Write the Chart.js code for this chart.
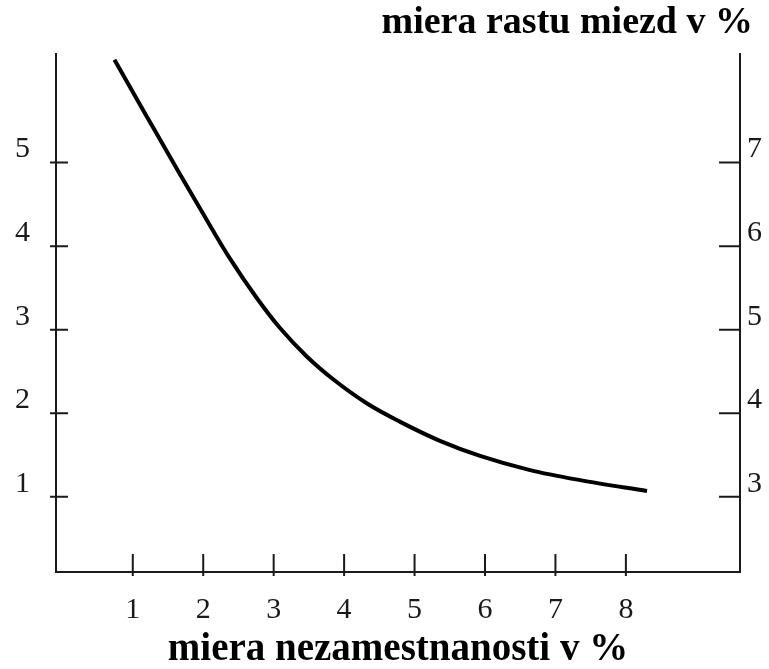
<!DOCTYPE html>
<html lang="sk">

<head>
    <meta charset="UTF-8">
    <meta name="viewport" content="width=device-width, initial-scale=1.0">
    <title>Phillipsova krivka</title>
    <script src="https://cdn.jsdelivr.net/npm/chart.js"></script>
    <style>
        html, body { margin: 0; padding: 0; background: #fff; }
    </style>
</head>

<body>
    <canvas id="myChart" width="769" height="669"></canvas>

    <script>
        // curve: unemployment (%) -> wage growth (%, left scale)
        const unemployment = [0.74, 1.20, 1.67, 1.99, 2.38, 2.76, 3.09, 3.47, 3.84, 4.32, 4.79, 5.36, 5.93, 6.64, 7.35, 8.30];
        const wageGrowth   = [6.23, 5.55, 4.86, 4.40, 3.85, 3.38, 3.02, 2.68, 2.41, 2.12, 1.90, 1.67, 1.49, 1.32, 1.20, 1.07];

        const xTicks = [1, 2, 3, 4, 5, 6, 7, 8];
        const leftTicks = [1, 2, 3, 4, 5];
        const rightTicks = [3, 4, 5, 6, 7];

        const xTitle = 'miera nezamestnanosti v %';
        const topTitle = 'miera rastu miezd v %';

        const ink = '#1a1a1a';
        const serif = '"Liberation Serif", "DejaVu Serif", serif';

        // short tick marks drawn at the scale positions
        const tickMarks = {
            id: 'tickMarks',
            afterDraw(chart) {
                const ctx = chart.ctx;
                const x = chart.scales.x, yl = chart.scales.y, yr = chart.scales.y2;
                ctx.save();
                ctx.strokeStyle = ink;
                ctx.lineWidth = 2;
                ctx.beginPath();
                x.ticks.forEach(t => {
                    const px = x.getPixelForValue(t.value);
                    ctx.moveTo(px, x.top - 18);
                    ctx.lineTo(px, x.top + 4);
                });
                yl.ticks.forEach(t => {
                    const py = yl.getPixelForValue(t.value);
                    ctx.moveTo(yl.right - 6, py);
                    ctx.lineTo(yl.right + 12, py);
                });
                yr.ticks.forEach(t => {
                    const py = yr.getPixelForValue(t.value);
                    ctx.moveTo(yr.left - 21, py);
                    ctx.lineTo(yr.left, py);
                });
                ctx.stroke();
                ctx.restore();
            }
        };

        function setTicks(values) {
            return function (scale) {
                scale.ticks = values.map(v => ({ value: v }));
            };
        }

        const ctx = document.getElementById('myChart').getContext('2d');
        const myChart = new Chart(ctx, {
            type: 'scatter',
            data: {
                datasets: [{
                    data: unemployment.map((u, i) => ({ x: u, y: wageGrowth[i] })),
                    showLine: true,
                    borderColor: '#000',
                    borderWidth: 4,
                    pointRadius: 0,
                    cubicInterpolationMode: 'monotone',
                    yAxisID: 'y'
                }]
            },
            options: {
                responsive: false,
                animation: false,
                devicePixelRatio: 1,
                layout: { padding: { left: 0, right: 16, top: 0, bottom: 0 } },
                plugins: {
                    legend: { display: false },
                    tooltip: { enabled: false },
                    title: {
                        display: true,
                        text: topTitle,
                        align: 'end',
                        color: '#000',
                        font: { family: serif, size: 38, weight: 'bold', lineHeight: 1.2 },
                        padding: { top: 0, bottom: 8.4 }
                    }
                },
                scales: {
                    x: {
                        type: 'linear',
                        min: -0.09,
                        max: 9.62,
                        afterBuildTicks: setTicks(xTicks),
                        afterFit(scale) { scale.height = 97; },
                        grid: { display: false, drawTicks: false },
                        border: { display: true, color: ink, width: 2 },
                        ticks: {
                            color: ink,
                            padding: 20,
                            font: { family: serif, size: 30, lineHeight: 1.2 }
                        },
                        title: {
                            display: true,
                            text: xTitle,
                            color: '#000',
                            padding: { top: 0, bottom: 0 },
                            font: { family: serif, size: 39, weight: 'bold', lineHeight: 1.0 }
                        }
                    },
                    y: {
                        type: 'linear',
                        position: 'left',
                        min: 0.1,
                        max: 6.3,
                        afterBuildTicks: setTicks(leftTicks),
                        afterFit(scale) { scale.width = 56; },
                        grid: { display: false, drawTicks: false },
                        border: { display: true, color: ink, width: 2 },
                        ticks: {
                            color: ink,
                            padding: 26,
                            labelOffset: -13,
                            font: { family: serif, size: 30 }
                        }
                    },
                    y2: {
                        type: 'linear',
                        position: 'right',
                        min: 2.1,
                        max: 8.3,
                        afterBuildTicks: setTicks(rightTicks),
                        afterFit(scale) {
                            scale.width = 13;
                            // let the labels run into the right padding instead of being clipped
                            scale._computeLabelArea = () => undefined;
                        },
                        grid: { display: false, drawTicks: false },
                        border: { display: true, color: ink, width: 2 },
                        ticks: {
                            color: ink,
                            padding: 7,
                            labelOffset: -13,
                            font: { family: serif, size: 30 }
                        }
                    }
                }
            },
            plugins: [tickMarks]
        });
    </script>
</body>

</html>
